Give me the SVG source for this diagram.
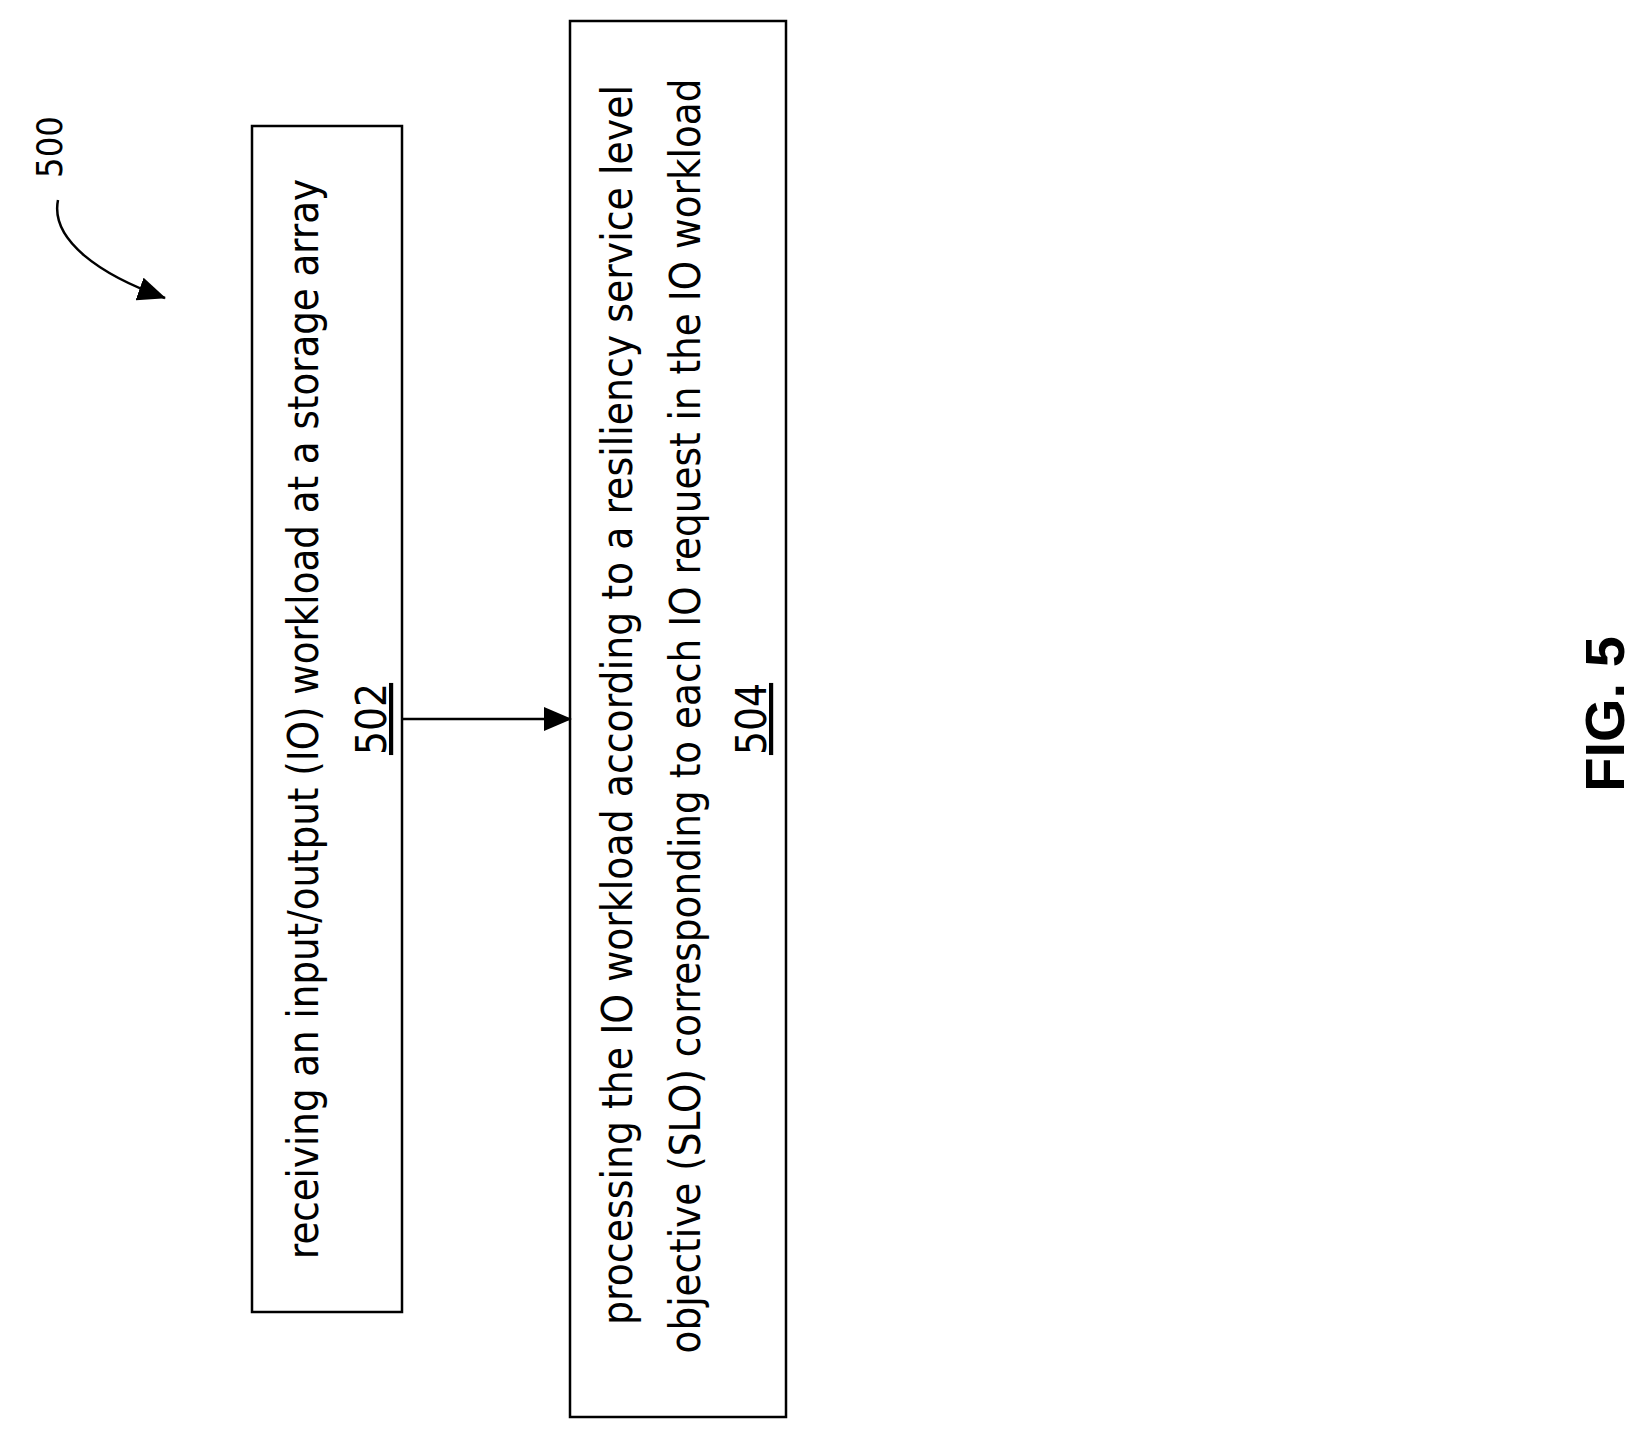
<svg xmlns="http://www.w3.org/2000/svg" width="1638" height="1431" viewBox="0 0 1638 1431">
<style>
.b{fill:#fff;stroke:#000;stroke-width:2.5}
.t{font-family:"DejaVu Sans Condensed","Liberation Sans",sans-serif;font-stretch:condensed;font-size:42px;fill:#000;text-anchor:middle}
.c{fill:none;stroke:#000;stroke-width:2.5}
</style>
<defs>
<marker id="ah2" viewBox="0 0 28 24" markerWidth="28" markerHeight="24" refX="27" refY="12" orient="auto" markerUnits="userSpaceOnUse"><path d="M0,0 L28,12 L0,24 z" fill="#000"/></marker></defs>
<g id="label500">
<text class="t" transform="translate(62,147) rotate(-90)" style="font-size:36px">500</text>
</g>
<g id="n502">
<rect class="b" x="252" y="126" width="150" height="1186"/>
<text class="t" transform="translate(318,719) rotate(-90)" textLength="1080" lengthAdjust="spacingAndGlyphs">receiving an input/output (IO) workload at a storage array</text>
<text class="t" transform="translate(386,719) rotate(-90)" text-decoration="underline">502</text>
</g>
<g id="n504">
<rect class="b" x="570" y="21" width="216" height="1396"/>
<text class="t" transform="translate(632,705) rotate(-90)" textLength="1240" lengthAdjust="spacingAndGlyphs">processing the IO workload according to a resiliency service level</text>
<text class="t" transform="translate(700,716) rotate(-90)" textLength="1275" lengthAdjust="spacingAndGlyphs">objective (SLO) corresponding to each IO request in the IO workload</text>
<text class="t" transform="translate(766,719) rotate(-90)" text-decoration="underline">504</text>
</g>
<g id="connectors">
<line class="c" x1="402" y1="719" x2="571" y2="719" marker-end="url(#ah2)"/>
<path class="c" d="M58,200 C50,240 100,275 165,298" marker-end="url(#ah2)"/>
</g>
<g id="fig">
<text transform="translate(1624,714) rotate(-90)" style="font-family:'Liberation Sans',Arial,sans-serif;font-weight:bold;font-size:56px;text-anchor:middle">FIG. 5</text>
</g>
</svg>
